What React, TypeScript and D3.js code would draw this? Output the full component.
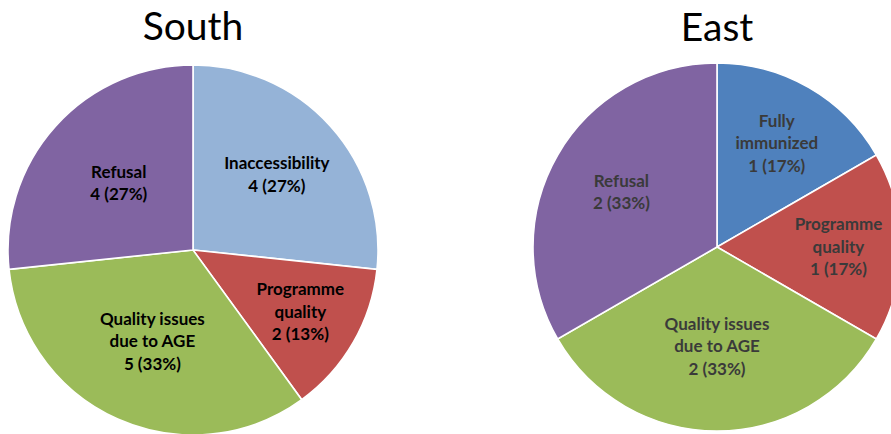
import React from "react";
import { arc, pie, PieArcDatum } from "d3";

// South
const southCats = ["Inaccessibility", "Programme quality", "Quality issues due to AGE", "Refusal"];
const southVals = [4, 2, 5, 4];
const southPct = ["27%", "13%", "33%", "27%"];
const southLabelLines = [["Inaccessibility"], ["Programme", "quality"], ["Quality issues", "due to AGE"], ["Refusal"]];

// East
const eastCats = ["Fully immunized", "Programme quality", "Quality issues due to AGE", "Refusal"];
const eastVals = [1, 1, 2, 2];
const eastPct = ["17%", "17%", "33%", "33%"];
const eastLabelLines = [["Fully", "immunized"], ["Programme", "quality"], ["Quality issues", "due to AGE"], ["Refusal"]];

const colorOf: Record<string, string> = {
  Inaccessibility: "#95b3d7",
  "Fully immunized": "#4f81bd",
  "Programme quality": "#c0504d",
  "Quality issues due to AGE": "#9bbb59",
  Refusal: "#8064a2",
};

type PieProps = {
  title: string;
  cats: string[];
  vals: number[];
  pct: string[];
  lines: string[][];
  cx: number;
  cy: number;
  r: number;
  titleY: number;
  labelK: number[];
  labelColor: string;
};

const PieChart = ({ title, cats, vals, pct, lines, cx, cy, r, titleY, labelK, labelColor }: PieProps) => {
  const slices = pie<number>().sort(null).value((d) => d)(vals);
  const path = arc<PieArcDatum<number>>().innerRadius(0).outerRadius(r);
  return (
    <g>
      <text x={cx} y={titleY} textAnchor="middle" fontFamily="Lato" fontSize={39} fill="#000">
        {title}
      </text>
      <g transform={`translate(${cx},${cy})`}>
        {slices.map((s, i) => (
          <path key={cats[i]} d={path(s) || ""} fill={colorOf[cats[i]]} stroke="#fff" strokeWidth={1.6} />
        ))}
        {slices.map((s, i) => {
          // label sits on an inner ring, like Excel's "best fit"
          const la = arc<PieArcDatum<number>>().innerRadius(r * labelK[i]).outerRadius(r * labelK[i]);
          const [lx, ly] = la.centroid(s);
          const all = [...lines[i], `${vals[i]} (${pct[i]})`];
          const lh = 22.5;
          const y0 = ly - ((all.length - 1) * lh) / 2;
          return (
            <text key={"l" + i} textAnchor="middle" fontFamily="Lato" fontWeight="bold" fontSize={17} fill={labelColor}>
              {all.map((t, j) => (
                <tspan key={j} x={lx} y={y0 + j * lh} dy="0.35em">
                  {t}
                </tspan>
              ))}
            </text>
          );
        })}
      </g>
    </g>
  );
};

export default function App() {
  return (
    <svg width={891} height={434} style={{ position: "absolute", left: 0, top: 0, background: "#fff" }}>
      <PieChart
        title="South"
        cats={southCats}
        vals={southVals}
        pct={southPct}
        lines={southLabelLines}
        cx={193}
        cy={250}
        r={185}
        titleY={40}
        labelK={[0.61, 0.67, 0.54, 0.54]}
        labelColor="#000"
      />
      <PieChart
        title="East"
        cats={eastCats}
        vals={eastVals}
        pct={eastPct}
        lines={eastLabelLines}
        cx={717}
        cy={247}
        r={184}
        titleY={41}
        labelK={[0.65, 0.66, 0.54, 0.6]}
        labelColor="#3a3a3a"
      />
    </svg>
  );
}
